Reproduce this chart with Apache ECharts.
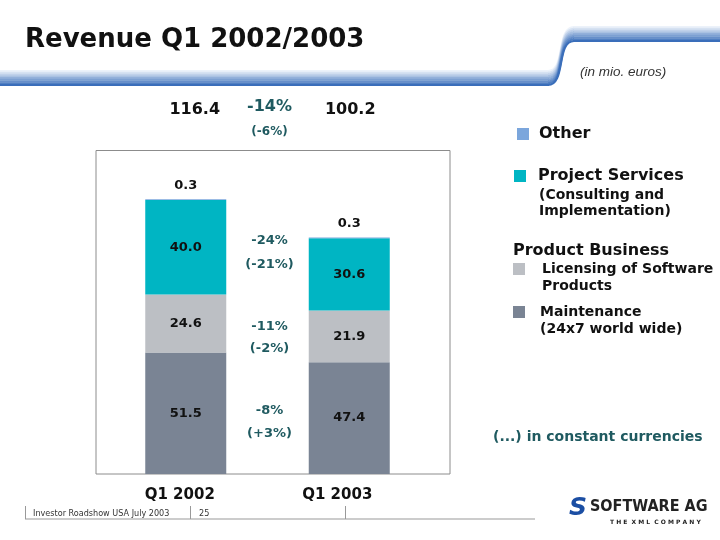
<!DOCTYPE html>
<html>
<head>
<meta charset="utf-8">
<style>html,body{margin:0;padding:0;background:#fff;}#c{width:720px;height:540px;}</style>
<script src="https://cdn.jsdelivr.net/npm/echarts@6/dist/echarts.min.js"></script>
</head>
<body>
<div id="c"></div>
<script>
// ---- data ----
var categories = ['Q1 2002', 'Q1 2003'];
var maintenance = [51.5, 47.4];
var licensing = [24.6, 21.9];
var projectServices = [40.0, 30.6];
var other = [0.3, 0.3];
var totals = [116.4, 100.2];
var totalChange = ['-14%', '(-6%)'];
var projectChange = ['-24%', '(-21%)'];
var licensingChange = ['-11%', '(-2%)'];
var maintenanceChange = ['-8%', '(+3%)'];

var FONT = '"DejaVu Sans", Verdana, sans-serif';
var TEAL_TXT = '#1f5a60';
var chart = echarts.init(document.getElementById('c'), null, {renderer: 'canvas'});

function segLabel() {
  return {show: true, position: 'inside', color: '#111', fontFamily: FONT, fontWeight: 'bold', fontSize: 13,
    formatter: function (p) { return p.value.toFixed(1); }};
}

// header swoosh as stacked stroked curves
var swoosh = [];
var nStrokes = 9;
for (var i = 0; i < nStrokes; i++) {
  var o = i * 1.75;
  var t = i / (nStrokes - 1);
  var c0 = [236, 242, 250], c1 = [58, 110, 186];
  var col = 'rgb(' + [0, 1, 2].map(function (k) { return Math.round(c0[k] + (c1[k] - c0[k]) * t); }).join(',') + ')';
  swoosh.push({
    type: 'bezierCurve', silent: true, z: 1,
    shape: {x1: 548, y1: 71 + o, x2: 574, y2: 27 + o, cpx1: 566, cpy1: 71 + o, cpx2: 556, cpy2: 27 + o},
    style: {stroke: col, lineWidth: 2.2, fill: null}
  });
  swoosh.push({type: 'line', silent: true, z: 1, shape: {x1: 0, y1: 71 + o, x2: 549, y2: 71 + o}, style: {stroke: col, lineWidth: 2.2}});
  swoosh.push({type: 'line', silent: true, z: 1, shape: {x1: 573, y1: 27 + o, x2: 720, y2: 27 + o}, style: {stroke: col, lineWidth: 2.2}});
}

function txt(x, y, s, size, opts) {
  opts = opts || {};
  return {type: 'text', silent: true, z: 5, x: x, y: y,
    style: {text: s, fill: opts.color || '#111', font: (opts.italic ? 'italic ' : '') + (opts.bold === false ? 'normal ' : 'bold ') + size + 'px ' + (opts.family || FONT),
      textAlign: opts.align || 'left', textVerticalAlign: 'middle'}};
}

var graphics = [].concat(swoosh);
graphics.push(txt(25, 40, 'Revenue Q1 2002/2003', 26));
graphics.push(txt(580, 72, '(in mio. euros)', 13.5, {italic: true, bold: false, color: '#333', family: 'Arial, "Liberation Sans", sans-serif'}));
// plot frame
graphics.push({type: 'rect', silent: true, z: 0, shape: {x: 96, y: 150.5, width: 354, height: 323.5}, style: {stroke: '#8c8c8c', lineWidth: 1, fill: null}});
// legend sub-lines
graphics.push(txt(539, 195, '(Consulting and', 14));
graphics.push(txt(539, 211, 'Implementation)', 14));
graphics.push(txt(513, 251, 'Product Business', 16));
graphics.push(txt(542, 286, 'Products', 14));
graphics.push(txt(540, 329, '(24x7 world wide)', 14));
graphics.push(txt(493, 437, '(...) in constant currencies', 14, {color: TEAL_TXT}));
// footer
graphics.push({type: 'line', silent: true, shape: {x1: 25, y1: 519, x2: 535, y2: 519}, style: {stroke: '#999', lineWidth: 1}});
[25.5, 190.5, 345.5].forEach(function (x) {
  graphics.push({type: 'line', silent: true, shape: {x1: x, y1: 506, x2: x, y2: 519}, style: {stroke: '#999', lineWidth: 1}});
});
graphics.push(txt(33, 514, 'Investor Roadshow USA July 2003', 9, {bold: false, color: '#333', family: '"DejaVu Sans Condensed", "DejaVu Sans", sans-serif'}));
graphics.push(txt(199, 514, '25', 9, {bold: false, color: '#333', family: '"DejaVu Sans Condensed", "DejaVu Sans", sans-serif'}));
// logo
graphics.push(txt(569, 508, 'S', 25, {color: '#1b4ea3', italic: true}));
graphics.push(txt(590, 507, 'SOFTWARE AG', 16, {color: '#222', family: '"DejaVu Sans Condensed", "DejaVu Sans", sans-serif'}));
graphics.push(txt(610, 522, 'T H E  X M L  C O M P A N Y', 6, {color: '#222'}));

function legendFor(name, left, top, text, size, gap) {
  return {
    data: [name], left: left, top: top, orient: 'vertical', padding: 0, itemGap: 0,
    itemWidth: 12, itemHeight: 12, icon: 'rect', selectedMode: false, itemStyle: {borderWidth: 0},
    formatter: function () { return text; },
    textStyle: {color: '#111', fontFamily: FONT, fontWeight: 'bold', fontSize: size, padding: [0, 0, 0, gap]}
  };
}

var option = {
  animation: false,
  backgroundColor: '#fff',
  grid: {left: 104, right: 289, top: 150, bottom: 66},
  xAxis: {
    type: 'category', data: categories,
    axisLine: {show: false}, axisTick: {show: false},
    axisLabel: {
      margin: 14,
      formatter: function (v, i) { return (i === 0 ? '{a|' : '{b|') + v + '}'; },
      rich: {
        a: {color: '#111', fontFamily: FONT, fontWeight: 'bold', fontSize: 15, padding: [0, 12, 0, 0]},
        b: {color: '#111', fontFamily: FONT, fontWeight: 'bold', fontSize: 15, padding: [0, 24, 4, 0]}
      }
    }
  },
  yAxis: {type: 'value', min: 0, max: 137.3, show: false, splitLine: {show: false}},
  legend: [
    legendFor('Other', 517, 126, 'Other', 16, 5),
    legendFor('Project Services', 514, 168, 'Project Services', 16, 7),
    legendFor('Licensing of Software Products', 513, 262, 'Licensing of Software', 14, 12),
    legendFor('Maintenance', 513, 305, 'Maintenance', 14, 10)
  ],
  series: [
    {name: 'Maintenance', type: 'bar', stack: 'rev', barWidth: 81, data: maintenance, itemStyle: {color: '#7a8494'}, label: segLabel()},
    {name: 'Licensing of Software Products', type: 'bar', stack: 'rev', data: licensing, itemStyle: {color: '#bcbfc4'}, label: segLabel()},
    {name: 'Project Services', type: 'bar', stack: 'rev', data: projectServices, itemStyle: {color: '#00b5c3'}, label: segLabel()},
    {name: 'Other', type: 'bar', stack: 'rev', data: other, itemStyle: {color: '#7ba6dc'},
      label: {show: true, position: 'top', distance: 7, color: '#111', fontFamily: FONT, fontWeight: 'bold', fontSize: 13,
        formatter: function (p) { return p.value.toFixed(1); }}}
  ],
  graphic: graphics
};
chart.setOption(option);

// totals and change annotations
var x0 = chart.convertToPixel({xAxisIndex: 0}, categories[0]);
var x1 = chart.convertToPixel({xAxisIndex: 0}, categories[1]);
var xm = (x0 + x1) / 2 + 2;
var extra = [];
extra.push(txt(x0 + 9, 110, totals[0].toFixed(1), 16, {align: 'center'}));
extra.push(txt(x1 + 1, 110, totals[1].toFixed(1), 16, {align: 'center'}));
extra.push(txt(xm, 107, totalChange[0], 16, {align: 'center', color: TEAL_TXT}));
extra.push(txt(xm, 132, totalChange[1], 12, {align: 'center', color: TEAL_TXT}));
[[projectChange, 241, 265], [licensingChange, 327, 349], [maintenanceChange, 411, 434]].forEach(function (r) {
  extra.push(txt(xm, r[1], r[0][0], 13, {align: 'center', color: TEAL_TXT}));
  extra.push(txt(xm, r[2], r[0][1], 13, {align: 'center', color: TEAL_TXT}));
});
chart.setOption({graphic: graphics.concat(extra)});
</script>
</body>
</html>
